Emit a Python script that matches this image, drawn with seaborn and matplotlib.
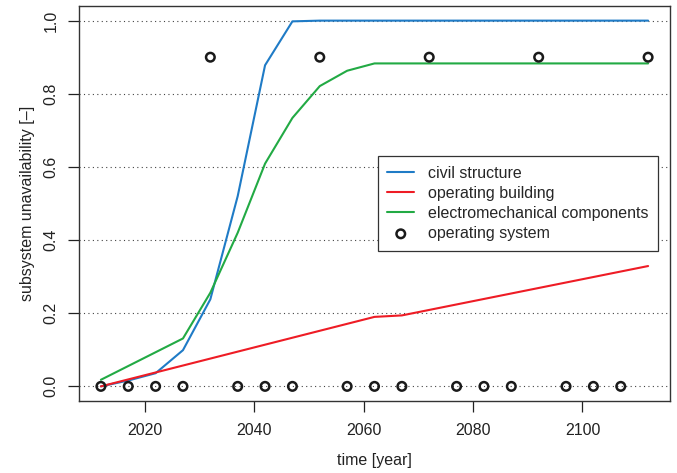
import numpy as np
import pandas as pd
import matplotlib
matplotlib.use("Agg")
import matplotlib.pyplot as plt
import seaborn as sns

# Subsystem unavailability over time
civil_years = [2012, 2017, 2022, 2027, 2032, 2037, 2042, 2047, 2052, 2112]
civil_vals = [0.0, 0.016, 0.036, 0.099, 0.238, 0.52, 0.878, 0.998, 1.0, 1.0]

building_years = [2012, 2062, 2067, 2112]
building_vals = [0.0, 0.19, 0.194, 0.329]

electro_years = [2012, 2027, 2032, 2037, 2042, 2047, 2052, 2057, 2062, 2112]
electro_vals = [0.018, 0.131, 0.256, 0.42, 0.609, 0.734, 0.821, 0.863, 0.883, 0.883]

op_years = [2012, 2017, 2022, 2027, 2032, 2037, 2042, 2047, 2052, 2057, 2062,
            2067, 2072, 2077, 2082, 2087, 2092, 2097, 2102, 2107, 2112]
op_vals = [0.0, 0.0, 0.0, 0.0, 0.9, 0.0, 0.0, 0.0, 0.9, 0.0, 0.0,
           0.0, 0.9, 0.0, 0.0, 0.0, 0.9, 0.0, 0.0, 0.0, 0.9]

x_ticks = [2020, 2040, 2060, 2080, 2100]
y_ticks = [0.0, 0.2, 0.4, 0.6, 0.8, 1.0]

sns.set_theme(style="white")
plt.rcParams["font.family"] = ["Liberation Sans", "DejaVu Sans"]

FS = 11.5
fig = plt.figure(figsize=(6.77, 4.73), dpi=100)
ax = fig.add_axes([79 / 677, 1 - 401 / 473, (670 - 79) / 677, (401 - 6) / 473])

# dotted horizontal reference lines
for yv in y_ticks:
    ax.axhline(yv, color="#444444", lw=0.8, ls=(0, (1, 3)), zorder=1)

lw = 1.5
sns.lineplot(x=civil_years, y=civil_vals, ax=ax, color="#1f7bc6", lw=lw,
             label="civil structure", zorder=3)
sns.lineplot(x=building_years, y=building_vals, ax=ax, color="#ee1c25", lw=lw,
             label="operating building", zorder=3)
sns.lineplot(x=electro_years, y=electro_vals, ax=ax, color="#22aa44", lw=lw,
             label="electromechanical components", zorder=3)
sns.scatterplot(x=op_years, y=op_vals, ax=ax, marker="o", s=38,
                facecolor="none", edgecolor="#1a1a1a", linewidth=1.8,
                label="operating system", zorder=4)

ax.set_xlim(2008, 2116)
ax.set_ylim(-0.04, 1.04)
ax.set_xticks(x_ticks)
ax.set_yticks(y_ticks)
ax.set_yticklabels([f"{v:.1f}" for v in y_ticks], rotation=90, va="center")
ax.tick_params(axis="both", which="major", labelsize=FS, colors="#222222",
               direction="out", length=7.8, width=0.9, left=True, bottom=True)
ax.tick_params(axis="x", pad=8)
ax.tick_params(axis="y", pad=7)

for sp in ax.spines.values():
    sp.set_color("#333333")
    sp.set_linewidth(1.0)

ax.set_xlabel("time [year]", fontsize=FS, color="#222222", labelpad=11)
ax.set_ylabel("subsystem unavailability [\u2013]", fontsize=FS, color="#222222",
              labelpad=6)

leg = ax.legend(loc="upper right", bbox_to_anchor=(0.9797, 0.62), fontsize=FS,
                frameon=True, fancybox=False, borderpad=0.6, labelspacing=0.32,
                handlelength=1.7, handletextpad=0.85, borderaxespad=0)
leg.get_frame().set_edgecolor("#333333")
leg.get_frame().set_linewidth(0.9)
leg.get_frame().set_alpha(1)

fig.savefig("out.png", dpi=100)
